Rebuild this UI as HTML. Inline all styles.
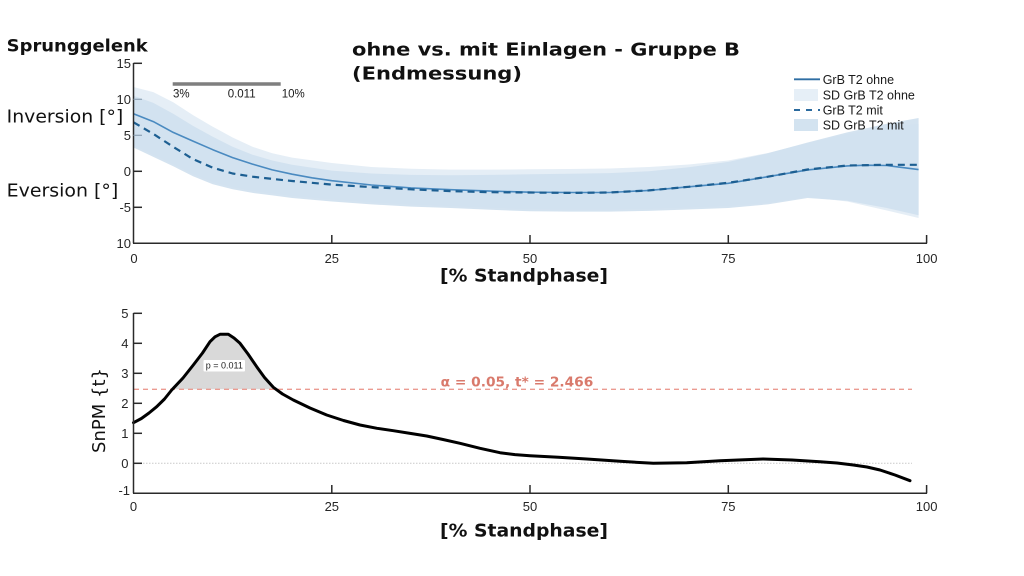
<!DOCTYPE html>
<html>
<head>
<meta charset="utf-8">
<style>
  html,body{margin:0;padding:0;background:#fff;}
  svg{display:block;}
  .tick{font-family:"Liberation Sans",Arial,sans-serif;font-size:13px;fill:#262626;}
  .bold{font-family:"DejaVu Sans","Liberation Sans",sans-serif;font-weight:bold;fill:#111;}
  .reg{font-family:"DejaVu Sans","Liberation Sans",sans-serif;fill:#111;}
  .leg{font-family:"Liberation Sans",Arial,sans-serif;font-size:12.5px;fill:#1a1a1a;}
</style>
</head>
<body>
<svg width="1024" height="576" viewBox="0 0 1024 576" xmlns="http://www.w3.org/2000/svg">
  <rect x="0" y="0" width="1024" height="576" fill="#fff"/>

  <!-- ===== TOP PLOT ===== -->
  <g stroke="#333" stroke-width="1.3">
    <line x1="133.5" y1="99.3" x2="142" y2="99.3"/>
    <line x1="133.5" y1="135.3" x2="142" y2="135.3"/>
  </g>
  <!-- light SD band (ohne) -->
  <polygon fill="#e5eef6" points="133.5,87 153.3,92.1 173.2,102.2 193,115.1 212.8,126.7 232.6,137.5 252.5,146.8 272.3,153.3 292.1,157.6 331.8,163 371.4,167 411,168.8 450.7,169.6 490.4,169.6 530,169.3 569.7,169 609.3,168.5 649,167 688.6,164.5 728.3,160.5 767.9,153 807.6,143 847.2,134 886.9,127 918.6,123.8 918.6,218 886.9,210.5 847.2,201.5 807.6,197 767.9,203 728.3,206 688.6,207.5 649,208.9 609.3,209.6 569.7,209.6 530,209.3 490.4,207.8 450.7,206 411,204.6 371.4,202.4 331.8,199.5 292.1,196 272.3,193.4 252.5,190.9 232.6,187.3 212.8,182.3 193,174.3 173.2,164.3 153.3,154.9 133.5,145.5"/>
  <!-- dark SD band (mit) -->
  <polygon fill="#d0e1ef" fill-opacity="0.92" points="133.5,95.7 153.3,102.9 173.2,113.7 193,125.9 212.8,136.7 232.6,146.8 252.5,154.7 272.3,160.5 292.1,164.8 331.8,170.6 371.4,173.5 411,174.9 450.7,175.3 490.4,174.9 530,174.2 569.7,173.8 609.3,173.1 649,171.3 688.6,167.3 728.3,161.9 767.9,153.3 807.6,142.5 847.2,132.4 886.9,123.8 918.6,118 918.6,215.2 886.9,208 847.2,200.8 807.6,198 767.9,204.4 728.3,208 688.6,209.5 649,210.9 609.3,211.6 569.7,211.6 530,211.3 490.4,209.8 450.7,208 411,206.6 371.4,204.4 331.8,201.5 292.1,198 272.3,195.4 252.5,192.9 232.6,189.3 212.8,184.3 193,176.3 173.2,166.3 153.3,156.9 133.5,147.5"/>

  <!-- mean ohne (solid) -->
  <polyline fill="none" stroke="#4a8ac0" stroke-width="1.6" stroke-linejoin="round" points="133.5,113.7 153.3,121.6 173.2,132.4 193,141.1 212.8,149.7 232.6,157.6 252.5,164.1 272.3,169.9 292.1,174.2 311.9,177.8 331.8,180.7 371.4,185 411,187.9 450.7,189.7 490.4,191.1 530,192.2 569.7,192.5 609.3,192.5 649,190.4 688.6,186.8 728.3,183.3 767.9,176.7 807.6,169.9 847.2,165.9 866,165.2 886.9,165.5 918.6,169.6"/>
  <!-- mean mit (dashed) -->
  <polyline fill="none" stroke="#1d5f92" stroke-width="2.2" stroke-dasharray="7,5" stroke-linejoin="round" points="133.5,122.3 153.3,133.9 173.2,146.8 193,159.1 212.8,167.7 232.6,173.5 252.5,176.7 272.3,178.9 292.1,181 331.8,184.6 371.4,187.1 411,189.3 450.7,191.1 490.4,192.2 530,192.5 569.7,192.9 609.3,192.5 649,190.4 688.6,186.8 728.3,182.8 767.9,176.7 807.6,169.5 847.2,165.5 886.9,164.8 918.6,164.8"/>

  <!-- top axes -->
  <g stroke="#2a2a2a" stroke-width="1.5" fill="none">
    <line x1="133.5" y1="63" x2="133.5" y2="243.3"/>
    <line x1="133" y1="243.3" x2="927" y2="243.3"/>
    <line x1="133.5" y1="63.3" x2="142" y2="63.3"/>
    <line x1="133.5" y1="171.3" x2="142" y2="171.3"/>
    <line x1="133.5" y1="207.3" x2="142" y2="207.3"/>
    <line x1="331.8" y1="243.3" x2="331.8" y2="235"/>
    <line x1="530" y1="243.3" x2="530" y2="235"/>
    <line x1="728.3" y1="243.3" x2="728.3" y2="235"/>
    <line x1="926.6" y1="243.3" x2="926.6" y2="235"/>
  </g>
  <g stroke="#8fa3b5" stroke-width="1.2">
    <line x1="133.5" y1="99.3" x2="142" y2="99.3"/>
    <line x1="133.5" y1="135.3" x2="142" y2="135.3"/>
  </g>
  <g class="tick" text-anchor="end">
    <text x="131" y="67.8">15</text>
    <text x="131" y="103.8">10</text>
    <text x="131" y="139.8">5</text>
    <text x="131" y="175.8">0</text>
    <text x="131" y="211.8">-5</text>
    <text x="131" y="247.8">10</text>
  </g>
  <g class="tick" text-anchor="middle">
    <text x="134" y="262.8">0</text>
    <text x="331.8" y="262.8">25</text>
    <text x="530" y="262.8">50</text>
    <text x="728.3" y="262.8">75</text>
    <text x="926.6" y="262.8">100</text>
  </g>
  <text class="bold" x="440" y="281.7" font-size="17.5" textLength="168" lengthAdjust="spacingAndGlyphs">[% Standphase]</text>

  <!-- significance bar -->
  <line x1="172.7" y1="84" x2="280.7" y2="84" stroke="#7f7f7f" stroke-width="3.5"/>
  <g font-family="Liberation Sans, Arial, sans-serif" font-size="11.5" fill="#1a1a1a">
    <text x="173" y="97.5">3%</text>
    <text x="227.7" y="97.5">0.011</text>
    <text x="281.7" y="97.5">10%</text>
  </g>

  <!-- legend -->
  <line x1="794" y1="79.3" x2="820" y2="79.3" stroke="#2f6ea3" stroke-width="1.8"/>
  <text class="leg" x="822.7" y="83.8">GrB T2 ohne</text>
  <rect x="794" y="89" width="24" height="12" fill="#e6eff7"/>
  <text class="leg" x="822.7" y="99.5">SD GrB T2 ohne</text>
  <line x1="794" y1="110" x2="820" y2="110" stroke="#2a6a9e" stroke-width="2" stroke-dasharray="6,6"/>
  <text class="leg" x="822.7" y="114.5">GrB T2 mit</text>
  <rect x="794" y="119" width="24" height="12" fill="#d3e3f0"/>
  <text class="leg" x="822.7" y="129.5">SD GrB T2 mit</text>

  <!-- titles -->
  <text class="bold" x="6.7" y="51.7" font-size="17" textLength="141" lengthAdjust="spacingAndGlyphs">Sprunggelenk</text>
  <text class="bold" x="352" y="55.5" font-size="18" textLength="388" lengthAdjust="spacingAndGlyphs">ohne vs. mit Einlagen - Gruppe B</text>
  <text class="bold" x="352" y="79.5" font-size="18" textLength="170" lengthAdjust="spacingAndGlyphs">(Endmessung)</text>
  <text class="reg" x="6.7" y="122.7" font-size="18" textLength="116.6" lengthAdjust="spacingAndGlyphs">Inversion [°]</text>
  <text class="reg" x="6.7" y="196.7" font-size="18" textLength="111.6" lengthAdjust="spacingAndGlyphs">Eversion [°]</text>

  <!-- ===== BOTTOM PLOT ===== -->
  <line x1="134" y1="463.3" x2="912" y2="463.3" stroke="#c9c9c9" stroke-width="1" stroke-dasharray="1.5,1.5"/>
  <polygon fill="#d9d9d9" points="172,389.3 183,378 193.3,365 202.5,353 210,341.7 215,336.8 220,334.3 228.3,334.3 234,338 240,343.3 248,354 256.7,366.7 264.5,377.5 273.3,387.3 275,389.3"/>
  <line x1="134" y1="389.3" x2="912" y2="389.3" stroke="#eb9b91" stroke-width="1.3" stroke-dasharray="5,4"/>
  <text x="440.7" y="386.5" font-family="DejaVu Sans, Liberation Sans, sans-serif" font-weight="bold" font-size="13" fill="#d97a6c" textLength="152.6" lengthAdjust="spacingAndGlyphs">α = 0.05, t* = 2.466</text>
  <rect x="203.5" y="360" width="41.5" height="11.5" fill="#fff" rx="1"/>
  <text x="224.3" y="368.6" font-family="Liberation Sans, Arial, sans-serif" font-size="9" fill="#222" text-anchor="middle">p = 0.011</text>
  <polyline fill="none" stroke="#000" stroke-width="3" stroke-linejoin="round" stroke-linecap="round" points="133.5,422.7 141.4,418.5 149,413 156.7,406.7 164.5,399 171.7,390 183,378 193.3,365 202.5,353 210,341.7 215,336.8 220,334.3 228.3,334.3 234,338 240,343.3 248,354 256.7,366.7 264.5,377.5 273.3,387.3 282.5,394 293.3,400 310,408 326.7,415 343.5,420.5 360,425 377,428.3 393.3,430.7 411,433.5 426.7,436 443,439.5 460,443.3 480,448.3 500,452.7 515,454.6 530,455.7 558.5,457.3 586.7,459 620,461.3 653.3,463.3 686.7,462.7 720,460.7 763.3,459 792,460 820,461.7 837,463 853.3,465 867,467 880,470 895,475 910,480.7"/>

  <g stroke="#2a2a2a" stroke-width="1.5" fill="none">
    <line x1="133.5" y1="313" x2="133.5" y2="493.3"/>
    <line x1="133" y1="493.3" x2="927" y2="493.3"/>
    <line x1="133.5" y1="313.3" x2="142" y2="313.3"/>
    <line x1="133.5" y1="343.3" x2="142" y2="343.3"/>
    <line x1="133.5" y1="373.3" x2="142" y2="373.3"/>
    <line x1="133.5" y1="403.3" x2="142" y2="403.3"/>
    <line x1="133.5" y1="433.3" x2="142" y2="433.3"/>
    <line x1="133.5" y1="463.3" x2="142" y2="463.3"/>
    <line x1="331.8" y1="493.3" x2="331.8" y2="485"/>
    <line x1="530" y1="493.3" x2="530" y2="485"/>
    <line x1="728.3" y1="493.3" x2="728.3" y2="485"/>
    <line x1="926.6" y1="493.3" x2="926.6" y2="485"/>
  </g>
  <g class="tick" text-anchor="end">
    <text x="128.5" y="317.8">5</text>
    <text x="128.5" y="347.8">4</text>
    <text x="128.5" y="377.8">3</text>
    <text x="128.5" y="407.8">2</text>
    <text x="128.5" y="437.8">1</text>
    <text x="128.5" y="467.8">0</text>
    <text x="130" y="495">-1</text>
  </g>
  <g class="tick" text-anchor="middle">
    <text x="133.5" y="511.2">0</text>
    <text x="331.8" y="511.2">25</text>
    <text x="530" y="511.2">50</text>
    <text x="728.3" y="511.2">75</text>
    <text x="926.6" y="511.2">100</text>
  </g>
  <text class="bold" x="440" y="536.7" font-size="17.5" textLength="168" lengthAdjust="spacingAndGlyphs">[% Standphase]</text>
  <text class="reg" transform="translate(105,410.5) rotate(-90)" x="0" y="0" text-anchor="middle" font-size="18" fill="#333" textLength="85" lengthAdjust="spacingAndGlyphs">SnPM {t}</text>
</svg>
</body>
</html>
